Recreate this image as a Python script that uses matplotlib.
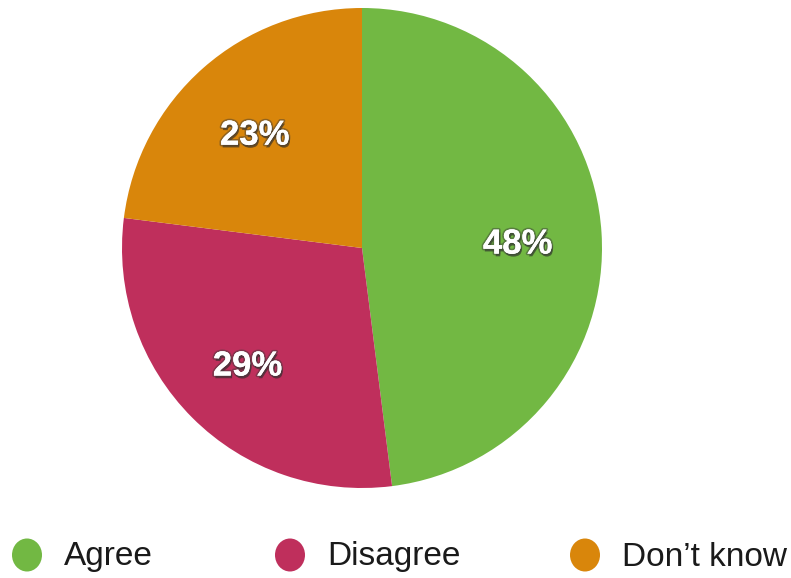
import matplotlib.pyplot as plt
import matplotlib.patheffects as pe
from matplotlib.patches import Ellipse

labels = ['Agree', 'Disagree', 'Don\u2019t know']
shares = [48, 29, 23]
colors = ['#72b843', '#bf2f5c', '#d9860b']

W, H = 791, 578
fig = plt.figure(figsize=(W / 100, H / 100), dpi=100)

# pie: centre (362, 248) px from top-left, radius 240 px
cx, cy, r = 362, 248, 240
ax = fig.add_axes([(cx - r) / W, (H - cy - r) / H, 2 * r / W, 2 * r / H])
wedges, texts, autotexts = ax.pie(
    shares, colors=colors, startangle=90, counterclock=False,
    autopct='%d%%', pctdistance=0.66, radius=1,
    wedgeprops=dict(linewidth=0),
    textprops=dict(color='white', fontsize=25, fontweight='bold',
                   family='Liberation Sans'))
for t in autotexts:
    x, y = t.get_position()
    t.set_position((x - 0.01, y - 0.025))
    t.set_path_effects([pe.withSimplePatchShadow(offset=(1, -2), shadow_rgbFace='#2a2a2a', alpha=0.6),
                        pe.withStroke(linewidth=2.5, foreground='#3a3a3a', alpha=0.45),
                        pe.Normal()])
ax.set_xlim(-1, 1)
ax.set_ylim(-1, 1)
ax.set_aspect('equal')
ax.axis('off')

# legend row along the bottom, in pixel coordinates
lax = fig.add_axes([0, 0, 1, 78 / H])
lax.set_xlim(0, W)
lax.set_ylim(78, 0)
lax.axis('off')
marker_x = [27, 290, 585]
for lab, col, mx in zip(labels, colors, marker_x):
    lax.add_patch(Ellipse((mx, 55), 30, 33, color=col, lw=0))
    lax.text(mx + 37, 57, lab, fontsize=24, family='Liberation Sans',
             color='#1a1a1a', va='center', ha='left')

fig.savefig('out.png', dpi=100, facecolor='white')
